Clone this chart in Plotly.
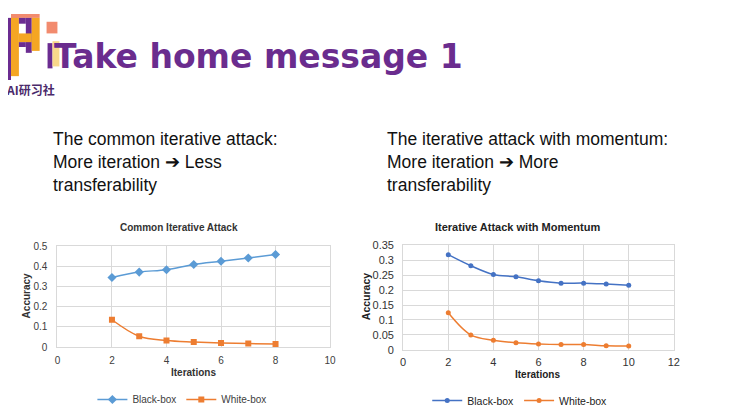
import plotly.graph_objects as go

W, H = 740, 413
OFF = 8  # the page body adds a margin around the plot div

# data
iters_common = [2, 3, 4, 5, 6, 7, 8]
black_common = [0.344, 0.371, 0.383, 0.409, 0.425, 0.441, 0.458]
white_common = [0.135, 0.053, 0.032, 0.025, 0.020, 0.017, 0.015]

iters_momentum = [2, 3, 4, 5, 6, 7, 8, 9, 10]
black_momentum = [0.318, 0.281, 0.252, 0.244, 0.231, 0.223, 0.223, 0.220, 0.216]
white_momentum = [0.124, 0.050, 0.032, 0.024, 0.020, 0.018, 0.018, 0.014, 0.013]

slide_title = "Take home message 1"
left_text = "The common iterative attack:<br>More iteration \u2794 Less<br>transferability"
right_text = "The iterative attack with momentum:<br>More iteration \u2794 More<br>transferability"


def px(x, y):
    # screen pixel position -> paper coordinates
    return (x - OFF) / W, 1 - (y - OFF) / H


fig = go.Figure()

fig.add_trace(go.Scatter(x=iters_common, y=black_common, name='Black-box', mode='lines+markers',
                         line=dict(color='#5b9bd5', width=1.5, shape='spline'),
                         marker=dict(symbol='diamond', size=7, color='#5b9bd5'),
                         xaxis='x', yaxis='y', legend='legend'))
fig.add_trace(go.Scatter(x=iters_common, y=white_common, name='White-box', mode='lines+markers',
                         line=dict(color='#ed7d31', width=1.5, shape='spline'),
                         marker=dict(symbol='square', size=6, color='#ed7d31'),
                         xaxis='x', yaxis='y', legend='legend'))
fig.add_trace(go.Scatter(x=iters_momentum, y=black_momentum, name='Black-box', mode='lines+markers',
                         line=dict(color='#4472c4', width=1.5, shape='spline'),
                         marker=dict(symbol='circle', size=5, color='#4472c4'),
                         xaxis='x2', yaxis='y2', legend='legend2'))
fig.add_trace(go.Scatter(x=iters_momentum, y=white_momentum, name='White-box', mode='lines+markers',
                         line=dict(color='#ed7d31', width=1.5, shape='spline'),
                         marker=dict(symbol='circle', size=5, color='#ed7d31'),
                         xaxis='x2', yaxis='y2', legend='legend2'))

x0, y1 = px(55, 351)
x1, y0 = px(331, 247)
x2, y3 = px(405, 354)
x3, y2 = px(679, 246)

grid = '#d9d9d9'
tickfont_l = dict(family='Liberation Sans', size=10, color='#404040')
tickfont_r = dict(family='Liberation Sans', size=11, color='#333333')

fig.update_layout(
    width=W, height=H,
    margin=dict(l=0, r=0, t=0, b=0),
    paper_bgcolor='white', plot_bgcolor='white',
    font=dict(family='Liberation Sans'),
    xaxis=dict(domain=[x0, x1], anchor='y', range=[0, 10], dtick=2, showgrid=True, gridcolor=grid,
               showline=True, linecolor=grid, mirror=True, zeroline=False, tickfont=tickfont_l,
               ticks='', ticklabelstandoff=4),
    yaxis=dict(domain=[y1, y0], anchor='x', range=[0, 0.5], dtick=0.1, showgrid=True, gridcolor=grid,
               showline=True, linecolor=grid, mirror=True, zeroline=False, tickfont=tickfont_l,
               tickformat='.1~f', ticks='', ticklabelstandoff=7),
    xaxis2=dict(domain=[x2, x3], anchor='y2', range=[0, 12], dtick=2, showgrid=True, gridcolor=grid,
                showline=True, linecolor=grid, mirror=True, zeroline=False, tickfont=tickfont_r,
                ticks='', ticklabelstandoff=2),
    yaxis2=dict(domain=[y3, y2], anchor='x2', range=[0, 0.35], dtick=0.05, showgrid=True, gridcolor=grid,
                showline=True, linecolor=grid, mirror=True, zeroline=False, tickfont=tickfont_r,
                tickformat='~g', ticks='', ticklabelstandoff=6),
    legend=dict(orientation='h', x=(181 - OFF) / W, y=1 - (405 - OFF) / H, xanchor='center',
                yanchor='middle', font=dict(family='Liberation Sans', size=10, color='#404040'),
                itemwidth=30, bgcolor='rgba(0,0,0,0)'),
    legend2=dict(orientation='h', x=(523 - OFF) / W, y=1 - (406 - OFF) / H, xanchor='center',
                 yanchor='middle', font=dict(family='Liberation Sans', size=10.5, color='#222222'),
                 itemwidth=30, bgcolor='rgba(0,0,0,0)'),
)

ann = []


def label(x, y, text, size, color='#222222', bold=False, angle=0, family='Liberation Sans',
          xanchor='center', yanchor='middle', align='center'):
    px_x, px_y = px(x, y)
    if bold:
        text = '<b>' + text + '</b>'
    ann.append(dict(x=px_x, y=px_y, xref='paper', yref='paper', text=text, showarrow=False,
                    font=dict(family=family, size=size, color=color), textangle=angle,
                    xanchor=xanchor, yanchor=yanchor, align=align))


label(50, 52, slide_title, 33, color='#6a2c8e', bold=True, family='DejaVu Sans', xanchor='left')
label(1, 86, 'AI研习社', 12, color='#4b2a6b', bold=True, family='Noto Sans CJK SC', xanchor='left')

label(48, 160, left_text, 17.5, color='#111111', xanchor='left', align='left')
label(387, 160, right_text, 17.5, color='#111111', xanchor='left', align='left')

label(178, 228, 'Common Iterative Attack', 10, color='#333333', bold=True)
label(521, 227, 'Iterative Attack with Momentum', 11, color='#222222', bold=True)
label(193, 377, 'Iterations', 10, color='#333333', bold=True)
label(541, 379, 'Iterations', 10, color='#222222', bold=True)
label(24, 298, 'Accuracy', 10, color='#333333', bold=True, angle=-90)
label(367, 299, 'Accuracy', 10.5, color='#222222', bold=True, angle=-90)

fig.update_layout(annotations=ann)

# rough block logo in the top left corner (screen pixels); the top 8px are page margin
logo_blocks = [
    (8, 10, 16, 72, '#f5a623'),
    (2, 12, 8, 76, '#6b2c91'),
    (8, 8, 37, 12, '#f28b6e'),
    (16, 12, 23, 18, '#6b2c91'),
    (23, 12, 29, 48, '#6b2c91'),
    (29, 12, 37, 46, '#f5a623'),
    (16, 28, 29, 37, '#f5a623'),
    (16, 37, 23, 42, '#6b2c91'),
    (44, 16, 55, 28, '#f28b6e'),
    (45, 38, 50, 64, '#6b2c91'),
    (50, 36, 57, 62, '#f9d88b'),
]
shapes = []
for bx0, by0, bx1, by1, col in logo_blocks:
    sx0, sy1 = px(bx0, by0)
    sx1, sy0 = px(bx1, by1)
    shapes.append(dict(type='rect', xref='paper', yref='paper', x0=sx0, x1=sx1, y0=sy0, y1=sy1,
                       fillcolor=col, line=dict(width=0), layer='below'))
fig.update_layout(shapes=shapes)

fig.write_html("out.html")
